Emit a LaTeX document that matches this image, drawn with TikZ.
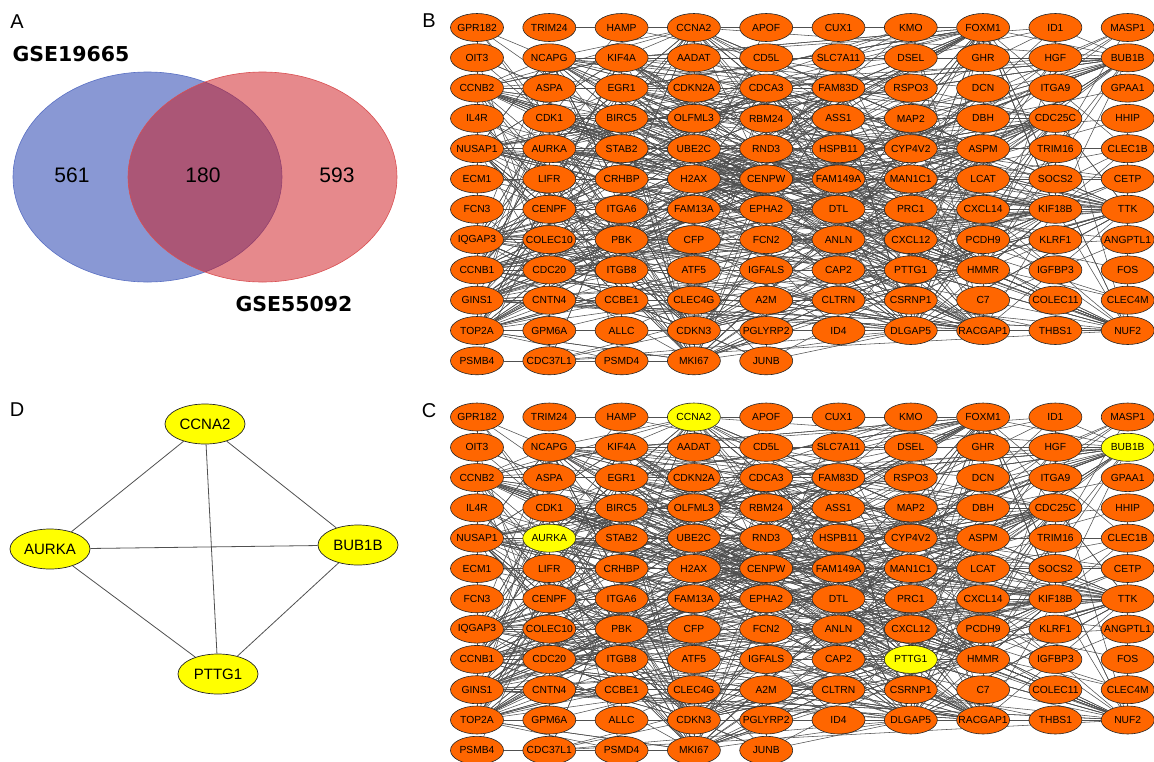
\documentclass[tikz,border=0pt]{standalone}
\usepackage{fontspec}
\setmainfont{Liberation Sans}
\newfontfamily\gsefont{DejaVu Sans}
\usetikzlibrary{shapes.geometric,backgrounds}

\definecolor{geneorange}{RGB}{255,102,0}
\definecolor{hubyellow}{RGB}{255,255,0}
\definecolor{vennblue}{RGB}{20,50,170}
\definecolor{vennred}{RGB}{205,20,25}
\definecolor{linkgray}{RGB}{80,80,80}

\tikzset{
  gene/.style={ellipse, draw=black!85, line width=0.6pt, fill=geneorange,
    minimum width=53pt, minimum height=28pt, inner sep=0pt,
    font=\fontsize{10.3}{10}\selectfont},
  hub/.style={ellipse, draw=black!85, line width=0.7pt, fill=hubyellow,
    minimum width=80pt, minimum height=40pt, inner sep=0pt,
    font=\fontsize{15}{15}\selectfont},
  link/.style={draw=linkgray, line width=0.55pt},
  panel/.style={font=\fontsize{20}{20}\selectfont},
  count/.style={font=\fontsize{21}{21}\selectfont},
  gse/.style={font=\gsefont\bfseries\fontsize{20.5}{20}\selectfont},
  % highlighted genes in panel C
  c4/.style={fill=hubyellow},
  c20/.style={fill=hubyellow},
  c42/.style={fill=hubyellow},
  c87/.style={fill=hubyellow},
}

\newcommand{\genelist}{GPR182,TRIM24,HAMP,CCNA2,APOF,CUX1,KMO,FOXM1,ID1,MASP1,%
OIT3,NCAPG,KIF4A,AADAT,CD5L,SLC7A11,DSEL,GHR,HGF,BUB1B,%
CCNB2,ASPA,EGR1,CDKN2A,CDCA3,FAM83D,RSPO3,DCN,ITGA9,GPAA1,%
IL4R,CDK1,BIRC5,OLFML3,RBM24,ASS1,MAP2,DBH,CDC25C,HHIP,%
NUSAP1,AURKA,STAB2,UBE2C,RND3,HSPB11,CYP4V2,ASPM,TRIM16,CLEC1B,%
ECM1,LIFR,CRHBP,H2AX,CENPW,FAM149A,MAN1C1,LCAT,SOCS2,CETP,%
FCN3,CENPF,ITGA6,FAM13A,EPHA2,DTL,PRC1,CXCL14,KIF18B,TTK,%
IQGAP3,COLEC10,PBK,CFP,FCN2,ANLN,CXCL12,PCDH9,KLRF1,ANGPTL1,%
CCNB1,CDC20,ITGB8,ATF5,IGFALS,CAP2,PTTG1,HMMR,IGFBP3,FOS,%
GINS1,CNTN4,CCBE1,CLEC4G,A2M,CLTRN,CSRNP1,C7,COLEC11,CLEC4M,%
TOP2A,GPM6A,ALLC,CDKN3,PGLYRP2,ID4,DLGAP5,RACGAP1,THBS1,NUF2,%
PSMB4,CDC37L1,PSMD4,MKI67,JUNB}

\def\hubarray{{4,8,12,13,20,21,25,26,32,33,39,41,42,44,48,54,55,62,66,67,69,70,71,73,76,81,82,87,88,91,101,104,107,108,110,114,23}}

% grid of genes: prefix, y of first row
\newcommand{\genegrid}[2]{%
  \foreach \lab [count=\i] in \genelist {
    \pgfmathtruncatemacro{\col}{mod(\i-1,10)}
    \pgfmathtruncatemacro{\row}{div(\i-1,10)}
    \node[gene, #1\i/.try] (#1\i) at ({477+72.3*\col},{#2+30.3*\row}) {\makebox[0pt]{\lab}};
  }
}

% interactions (same set in B and C)
\newcommand{\genelinks}[1]{%
  \pgfmathsetseed{2718}%
  \foreach \k in {1,...,520} {
    \pgfmathtruncatemacro{\ea}{\hubarray[random(0,36)]}
    \pgfmathtruncatemacro{\eb}{\hubarray[random(0,36)]}
    \ifnum\ea=\eb\relax\else\draw[link] (#1\ea) -- (#1\eb);\fi
  }
  \foreach \k in {1,...,300} {
    \pgfmathtruncatemacro{\ea}{\hubarray[random(0,36)]}
    \pgfmathtruncatemacro{\eb}{random(1,115)}
    \ifnum\ea=\eb\relax\else\draw[link] (#1\ea) -- (#1\eb);\fi
  }
  \foreach \a/\b in {2/3,3/4,4/5,1/32,11/22,11/33,111/112,112/113,113/114,101/103,101/113,114/70,114/60,104/114,9/20,10/19}
    \draw[link] (#1\a) -- (#1\b);
}

\begin{document}
\begin{tikzpicture}[x=1pt,y=-1pt]
\useasboundingbox (0,0) rectangle (1154,761);

% A: Venn diagram
\node[panel] (la) at (17,22) {A};
\draw[draw=vennblue!70, fill=vennblue, fill opacity=0.5, line width=0.6pt]
  (147.5,177) ellipse [x radius=134.5pt, y radius=105pt];
\draw[draw=vennred!75, fill=vennred, fill opacity=0.5, line width=0.6pt]
  (262.5,177) ellipse [x radius=134.5pt, y radius=105pt];
\node[count] (n1) at (72,175) {561};
\node[count] (n2) at (203,175) {180};
\node[count] (n3) at (337,175) {593};
\node[gse] (s1) at (71,54) {GSE19665};
\node[gse] (s2) at (294,304) {GSE55092};

% B: whole network
\node[panel] (lb) at (429,21) {B};
\genegrid{b}{27.5}
\begin{pgfonlayer}{background}
  \genelinks{b}
\end{pgfonlayer}

% C: hub genes marked
\node[panel] (lc) at (429,411) {C};
\genegrid{c}{417}
\begin{pgfonlayer}{background}
  \genelinks{c}
\end{pgfonlayer}

% D: hub genes
\node[panel] (ld) at (17,410) {D};
\node[hub] (dccna) at (205,424) {CCNA2};
\node[hub] (daurka) at (50,549) {AURKA};
\node[hub] (dbub) at (358,545) {BUB1B};
\node[hub] (dpttg) at (218,674) {PTTG1};
\foreach \a/\b in {dccna/daurka,dccna/dbub,dccna/dpttg,daurka/dbub,daurka/dpttg,dbub/dpttg}
  \draw[link, line width=0.8pt] (\a) -- (\b);
\end{tikzpicture}
\end{document}
